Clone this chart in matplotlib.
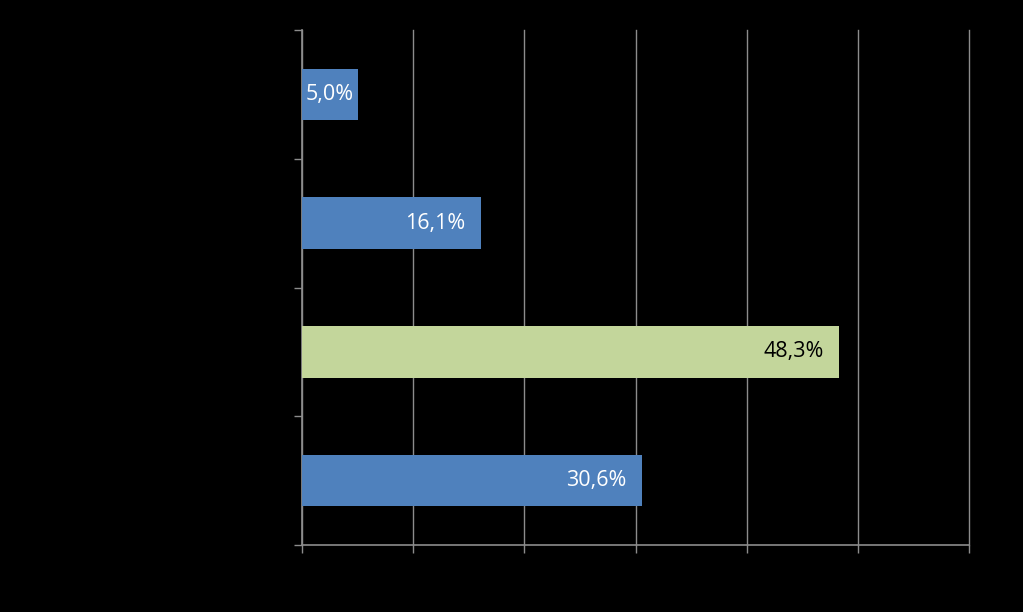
import numpy as np
import matplotlib
matplotlib.use('Agg')
import matplotlib.pyplot as plt

# data (top to bottom)
values = [5.0, 16.1, 48.3, 30.6]
labels = ['5,0%', '16,1%', '48,3%', '30,6%']
bar_colors = ['#4F81BD', '#4F81BD', '#C3D69B', '#4F81BD']
text_colors = ['white', 'white', 'black', 'white']
xticks = [0, 10, 20, 30, 40, 50, 60]

plt.rcParams['font.family'] = ['Open Sans', 'DejaVu Sans']

fig = plt.figure(figsize=(10.23, 6.12), dpi=100, facecolor='black')
ax = fig.add_axes([302/1023, 1-545/612, (969-302)/1023, (545-30)/612])
ax.set_facecolor('black')

pos = np.arange(len(values))
ax.barh(pos, values, height=0.4, color=bar_colors, zorder=3)

for p, v, lab, tc in zip(pos, values, labels, text_colors):
    if v < 8:
        ax.text(v/2, p, lab, ha='center', va='center', color=tc, fontsize=15.5, zorder=4)
    else:
        ax.annotate(lab, (v, p), xytext=(-11, 0), textcoords='offset points',
                    ha='right', va='center', color=tc, fontsize=15.5, zorder=4)

grid_c = '#8C8C8C'
ax.set_xlim(0, 60)
ax.set_xticks(xticks)
ax.set_xticklabels([])
ax.set_ylim(len(values)-0.5, -0.5)
ax.set_yticks(np.arange(len(values)+1) - 0.5)
ax.set_yticklabels([])
ax.grid(axis='x', color=grid_c, linewidth=1, zorder=0)
for gl in ax.get_xgridlines():
    gl.set_clip_on(False)
ax.tick_params(colors=grid_c, length=6, width=1, direction='out')
for s in ['top', 'right']:
    ax.spines[s].set_visible(False)
for s in ['left', 'bottom']:
    ax.spines[s].set_color(grid_c)
    ax.spines[s].set_linewidth(1.2)

fig.savefig('out.png', dpi=100, facecolor='black')
